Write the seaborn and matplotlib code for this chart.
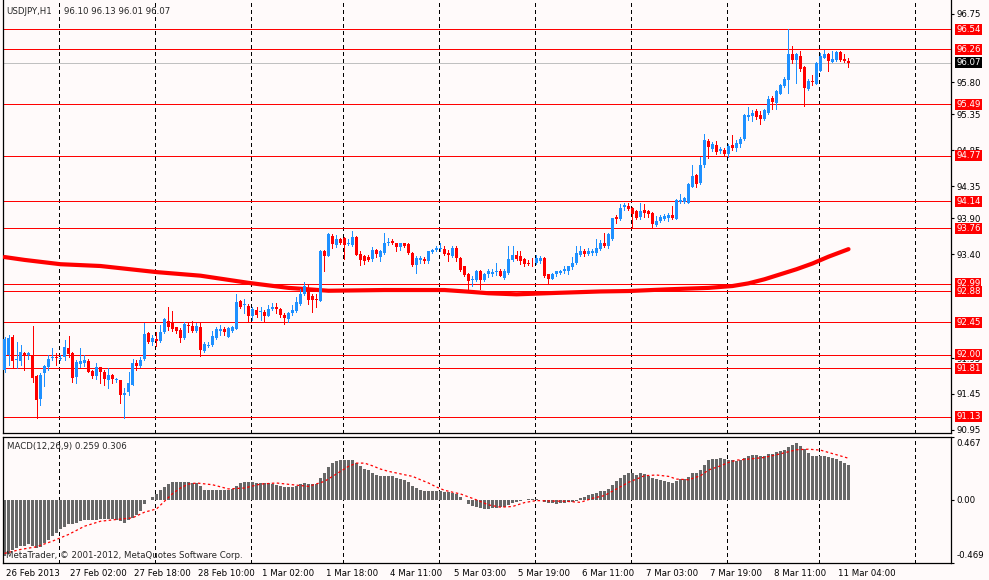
import numpy as np
import pandas as pd
import matplotlib
matplotlib.use("Agg")
import matplotlib.pyplot as plt
import matplotlib.transforms as mtransforms
import seaborn as sns

# ── Data (USDJPY H1) ─────────────────────────────────────
OPEN = [
    91.78, 92.00, 92.25, 91.92, 91.91, 92.02, 91.99, 91.98, 91.70, 91.38,
    91.74, 91.82, 91.95, 91.97, 91.94, 91.96, 92.09, 92.02, 91.69, 91.87,
    91.88, 91.91, 91.77, 91.70, 91.82, 91.76, 91.65, 91.71, 91.64, 91.65,
    91.44, 91.48, 91.58, 91.88, 91.84, 91.94, 92.30, 92.18, 92.21, 92.19,
    92.31, 92.47, 92.44, 92.38, 92.34, 92.23, 92.41, 92.40, 92.33, 92.39,
    92.05, 92.12, 92.13, 92.23, 92.33, 92.36, 92.25, 92.33, 92.36, 92.74,
    92.69, 92.68, 92.54, 92.62, 92.59, 92.60, 92.54, 92.64, 92.67, 92.63,
    92.55, 92.50, 92.58, 92.61, 92.71, 92.85, 92.93, 92.81, 92.77, 92.75,
    93.45, 93.37, 93.66, 93.53, 93.61, 93.63, 93.54, 93.53, 93.64, 93.40,
    93.37, 93.36, 93.33, 93.46, 93.36, 93.41, 93.55, 93.59, 93.55, 93.50,
    93.55, 93.54, 93.41, 93.25, 93.32, 93.33, 93.30, 93.43, 93.46, 93.47,
    93.47, 93.41, 93.37, 93.48, 93.34, 93.23, 93.12, 93.04, 93.04, 93.16,
    93.04, 93.12, 93.13, 93.15, 93.16, 93.07, 93.14, 93.32, 93.39, 93.37,
    93.33, 93.28, 93.28, 93.27, 93.30, 93.34, 93.12, 93.06, 93.12, 93.14,
    93.16, 93.16, 93.22, 93.27, 93.39, 93.44, 93.40, 93.42, 93.42, 93.47,
    93.55, 93.51, 93.61, 93.92, 93.89, 94.06, 94.07, 94.05, 94.00, 93.92,
    94.01, 94.00, 93.97, 93.81, 93.86, 93.89, 93.91, 93.95, 93.89, 94.13,
    94.13, 94.12, 94.34, 94.50, 94.39, 94.64, 94.98, 94.86, 94.92, 94.84,
    94.85, 94.80, 94.92, 94.88, 94.94, 95.00, 95.32, 95.33, 95.39, 95.34,
    95.29, 95.37, 95.58, 95.51, 95.64, 95.74, 95.83, 96.19, 96.11, 96.16,
    96.01, 95.71, 95.81, 95.78, 95.96, 96.14, 96.19, 96.08, 96.11, 96.22,
    96.12, 96.10,
]
HIGH = [
    92.24, 92.27, 92.27, 92.18, 92.13, 92.04, 92.03, 92.40, 91.71, 91.74,
    91.85, 91.99, 92.09, 92.02, 91.99, 92.20, 92.26, 92.04, 91.93, 92.09,
    91.99, 91.94, 91.78, 91.88, 91.83, 91.78, 91.81, 91.73, 91.68, 91.65,
    91.54, 91.75, 91.94, 91.92, 91.96, 92.44, 92.32, 92.27, 92.32, 92.41,
    92.51, 92.66, 92.61, 92.39, 92.37, 92.46, 92.45, 92.47, 92.44, 92.45,
    92.18, 92.18, 92.33, 92.39, 92.41, 92.39, 92.39, 92.40, 92.85, 92.76,
    92.78, 92.71, 92.67, 92.67, 92.66, 92.62, 92.69, 92.72, 92.72, 92.65,
    92.58, 92.60, 92.69, 92.80, 92.92, 93.01, 92.97, 92.85, 92.85, 93.46,
    93.46, 93.69, 93.68, 93.67, 93.62, 93.64, 93.61, 93.72, 93.65, 93.44,
    93.39, 93.39, 93.50, 93.47, 93.46, 93.69, 93.62, 93.61, 93.56, 93.56,
    93.56, 93.55, 93.43, 93.37, 93.37, 93.36, 93.45, 93.47, 93.51, 93.55,
    93.51, 93.46, 93.51, 93.51, 93.36, 93.24, 93.14, 93.10, 93.18, 93.18,
    93.14, 93.19, 93.20, 93.27, 93.20, 93.20, 93.51, 93.51, 93.44, 93.44,
    93.34, 93.32, 93.34, 93.39, 93.37, 93.36, 93.13, 93.14, 93.17, 93.18,
    93.23, 93.24, 93.36, 93.51, 93.51, 93.47, 93.48, 93.47, 93.61, 93.60,
    93.69, 93.69, 93.91, 93.95, 94.10, 94.12, 94.11, 94.06, 94.02, 94.12,
    94.10, 94.02, 93.99, 93.93, 93.95, 93.96, 93.97, 94.07, 94.17, 94.24,
    94.20, 94.39, 94.64, 94.52, 94.76, 95.08, 95.00, 94.96, 94.98, 94.89,
    94.88, 94.94, 95.06, 94.99, 95.04, 95.35, 95.45, 95.41, 95.42, 95.39,
    95.43, 95.60, 95.61, 95.69, 95.78, 95.87, 96.54, 96.30, 96.20, 96.23,
    96.02, 95.84, 95.90, 96.08, 96.20, 96.25, 96.20, 96.23, 96.23, 96.23,
    96.19, 96.13,
]
LOW = [
    91.76, 91.85, 91.83, 91.81, 91.85, 91.79, 91.94, 91.62, 91.11, 91.29,
    91.56, 91.78, 91.93, 91.85, 91.93, 91.93, 91.97, 91.62, 91.61, 91.82,
    91.84, 91.75, 91.67, 91.66, 91.61, 91.58, 91.53, 91.60, 91.62, 91.33,
    91.12, 91.44, 91.58, 91.78, 91.82, 91.92, 92.16, 92.13, 92.12, 92.18,
    92.30, 92.34, 92.33, 92.30, 92.17, 92.21, 92.32, 92.31, 92.31, 91.98,
    92.04, 92.10, 92.12, 92.22, 92.27, 92.27, 92.24, 92.32, 92.35, 92.65,
    92.58, 92.47, 92.48, 92.53, 92.48, 92.45, 92.54, 92.62, 92.58, 92.53,
    92.42, 92.45, 92.55, 92.60, 92.69, 92.83, 92.71, 92.60, 92.67, 92.74,
    93.17, 93.37, 93.48, 93.50, 93.54, 93.33, 93.53, 93.51, 93.39, 93.25,
    93.26, 93.30, 93.31, 93.36, 93.31, 93.40, 93.53, 93.54, 93.44, 93.46,
    93.50, 93.40, 93.24, 93.14, 93.27, 93.27, 93.27, 93.42, 93.44, 93.44,
    93.39, 93.30, 93.36, 93.31, 93.17, 93.09, 92.88, 92.95, 93.02, 92.92,
    93.02, 93.08, 93.10, 93.11, 93.09, 93.05, 93.12, 93.30, 93.32, 93.26,
    93.24, 93.25, 93.24, 93.26, 93.27, 93.08, 92.99, 93.05, 93.10, 93.13,
    93.14, 93.13, 93.20, 93.26, 93.37, 93.37, 93.39, 93.39, 93.39, 93.46,
    93.50, 93.48, 93.60, 93.83, 93.88, 94.01, 94.02, 93.78, 93.89, 93.89,
    93.92, 93.92, 93.77, 93.79, 93.85, 93.88, 93.86, 93.89, 93.89, 94.11,
    94.11, 94.11, 94.33, 94.33, 94.38, 94.62, 94.74, 94.84, 94.80, 94.81,
    94.78, 94.75, 94.85, 94.84, 94.90, 94.99, 95.27, 95.26, 95.28, 95.22,
    95.27, 95.35, 95.42, 95.43, 95.63, 95.73, 95.65, 96.07, 95.79, 95.95,
    95.47, 95.69, 95.76, 95.77, 95.95, 96.13, 95.95, 96.08, 96.10, 96.10,
    96.08, 96.01,
]
CLOSE = [
    92.22, 92.23, 91.91, 91.94, 92.04, 92.00, 92.02, 91.68, 91.37, 91.71,
    91.84, 91.94, 91.97, 91.95, 91.95, 92.10, 92.01, 91.68, 91.90, 91.91,
    91.93, 91.75, 91.70, 91.82, 91.76, 91.66, 91.72, 91.66, 91.66, 91.43,
    91.47, 91.60, 91.88, 91.84, 91.93, 92.29, 92.17, 92.23, 92.19, 92.31,
    92.50, 92.39, 92.35, 92.33, 92.23, 92.43, 92.40, 92.33, 92.40, 92.06,
    92.15, 92.13, 92.26, 92.36, 92.35, 92.31, 92.37, 92.38, 92.73, 92.67,
    92.70, 92.54, 92.64, 92.55, 92.60, 92.54, 92.64, 92.66, 92.63, 92.55,
    92.51, 92.58, 92.62, 92.73, 92.85, 92.95, 92.76, 92.76, 92.76, 93.45,
    93.37, 93.68, 93.54, 93.61, 93.55, 93.53, 93.56, 93.64, 93.39, 93.32,
    93.30, 93.32, 93.46, 93.40, 93.44, 93.55, 93.57, 93.56, 93.50, 93.55,
    93.51, 93.41, 93.25, 93.34, 93.34, 93.31, 93.44, 93.46, 93.48, 93.48,
    93.40, 93.39, 93.48, 93.34, 93.18, 93.11, 93.02, 93.05, 93.16, 93.04,
    93.12, 93.16, 93.15, 93.17, 93.10, 93.17, 93.33, 93.39, 93.33, 93.31,
    93.26, 93.26, 93.27, 93.34, 93.34, 93.09, 93.06, 93.12, 93.16, 93.17,
    93.20, 93.23, 93.28, 93.42, 93.44, 93.40, 93.44, 93.45, 93.48, 93.56,
    93.51, 93.68, 93.90, 93.89, 94.05, 94.09, 94.03, 93.96, 93.90, 94.00,
    93.98, 93.96, 93.82, 93.86, 93.92, 93.93, 93.95, 93.91, 94.16, 94.15,
    94.18, 94.38, 94.49, 94.38, 94.64, 94.99, 94.89, 94.94, 94.83, 94.87,
    94.80, 94.91, 94.88, 94.95, 95.01, 95.34, 95.34, 95.37, 95.31, 95.29,
    95.41, 95.56, 95.52, 95.67, 95.76, 95.85, 96.19, 96.11, 96.19, 95.98,
    95.72, 95.81, 95.80, 96.06, 96.16, 96.19, 96.10, 96.12, 96.22, 96.11,
    96.10, 96.07,
]

# thick red moving average, sampled along the chart
MA_BARS = [0, 5, 14, 24, 38, 49, 61, 71, 81, 95, 110, 116, 121, 128, 138,
           149, 156, 166, 176, 182, 186, 190, 194, 198, 202, 206, 211]
MA_VALS = [93.36, 93.32, 93.26, 93.235, 93.15, 93.10, 93.00, 92.93, 92.89,
           92.90, 92.90, 92.877, 92.855, 92.84, 92.86, 92.88, 92.886, 92.91,
           92.93, 92.956, 92.993, 93.05, 93.12, 93.19, 93.27, 93.365, 93.47]

# horizontal levels
LEVELS = [96.54, 96.26, 95.49, 94.77, 94.14, 93.76,
          92.99, 92.88, 92.45, 92.00, 91.81, 91.13]
LAST_PRICE = 96.07
PRICE_TICKS = [96.75, 95.80, 95.35, 94.85, 94.35, 93.90, 93.40,
               91.95, 91.45, 90.95]

# MACD(12,26,9) histogram, one per bar
MACD_HIST = [
    -0.42, -0.40, -0.37, -0.36, -0.34, -0.34, -0.33, -0.34, -0.36, -0.35,
    -0.32, -0.30, -0.27, -0.25, -0.22, -0.20, -0.18, -0.18, -0.17, -0.16,
    -0.15, -0.15, -0.15, -0.15, -0.14, -0.14, -0.14, -0.14, -0.15, -0.16,
    -0.17, -0.15, -0.135, -0.115, -0.085, -0.036, -0.005, 0.02, 0.044, 0.068,
    0.094, 0.118, 0.128, 0.13, 0.128, 0.13, 0.128, 0.122, 0.122, 0.104,
    0.074, 0.068, 0.074, 0.074, 0.074, 0.074, 0.074, 0.081, 0.104, 0.122,
    0.13, 0.128, 0.128, 0.122, 0.122, 0.122, 0.122, 0.118, 0.111, 0.098,
    0.09, 0.09, 0.094, 0.098, 0.118, 0.122, 0.118, 0.118, 0.118, 0.159,
    0.196, 0.24, 0.27, 0.283, 0.29, 0.294, 0.294, 0.29, 0.27, 0.246,
    0.226, 0.216, 0.196, 0.185, 0.176, 0.176, 0.176, 0.176, 0.159, 0.152,
    0.142, 0.128, 0.098, 0.086, 0.068, 0.067, 0.061, 0.061, 0.067, 0.067,
    0.058, 0.054, 0.047, 0.041, 0.022, -0.003, -0.032, -0.047, -0.051, -0.064,
    -0.067, -0.067, -0.064, -0.064, -0.057, -0.051, -0.04, -0.027, -0.014, -0.007,
    -0.003, 0.003, 0.005, 0.003, -0.003, -0.014, -0.022, -0.027, -0.032, -0.027,
    -0.022, -0.014, -0.014, -0.007, 0.01, 0.022, 0.032, 0.042, 0.049, 0.066,
    0.066, 0.079, 0.11, 0.135, 0.162, 0.184, 0.199, 0.199, 0.182, 0.197,
    0.187, 0.172, 0.16, 0.15, 0.145, 0.138, 0.13, 0.125, 0.14, 0.15,
    0.15, 0.17, 0.194, 0.199, 0.219, 0.256, 0.29, 0.302, 0.302, 0.307,
    0.30, 0.295, 0.295, 0.287, 0.295, 0.31, 0.324, 0.332, 0.332, 0.324,
    0.324, 0.339, 0.339, 0.351, 0.359, 0.364, 0.39, 0.405, 0.42, 0.398,
    0.373, 0.346, 0.324, 0.324, 0.324, 0.324, 0.317, 0.307, 0.30, 0.287,
    0.273, 0.259,
]
SIG_BARS = [0, 4, 8, 12, 16, 20, 24, 28, 32, 35, 38, 40, 42, 44, 46, 48, 52,
            56, 60, 64, 68, 72, 76, 80, 82, 84, 86, 88, 90, 92, 94, 96, 98,
            100, 102, 104, 106, 108, 110, 112, 114, 118, 121, 124, 127, 130,
            133, 136, 140, 144, 147, 150, 153, 156, 158, 160, 163, 166, 168,
            171, 174, 176, 179, 181, 183, 186, 190, 193, 196, 198, 201, 204,
            206, 208, 211]
SIG_VALS = [-0.398, -0.369, -0.349, -0.307, -0.258, -0.197, -0.16, -0.147,
            -0.135, -0.093, -0.069, -0.012, 0.044, 0.086, 0.115, 0.123, 0.11,
            0.079, 0.086, 0.115, 0.123, 0.11, 0.098, 0.135, 0.172, 0.209,
            0.246, 0.27, 0.27, 0.25, 0.226, 0.209, 0.197, 0.184, 0.172, 0.147,
            0.123, 0.093, 0.069, 0.055, 0.042, -0.002, -0.039, -0.056, -0.051,
            -0.022, -0.007, -0.01, -0.012, -0.02, 0.01, 0.03, 0.079, 0.128,
            0.152, 0.177, 0.182, 0.172, 0.152, 0.147, 0.177, 0.219, 0.25,
            0.275, 0.292, 0.30, 0.312, 0.332, 0.354, 0.369, 0.373, 0.366,
            0.349, 0.332, 0.306]

# time axis (one label every 16 bars) and day separators
TIME_BARS = [0, 16, 32, 48, 64, 80, 96, 112, 128, 144, 160, 176, 192, 208]
TIME_LABELS = ["26 Feb 2013", "27 Feb 02:00", "27 Feb 18:00", "28 Feb 10:00",
               "1 Mar 02:00", "1 Mar 18:00", "4 Mar 11:00", "5 Mar 03:00",
               "5 Mar 19:00", "6 Mar 11:00", "7 Mar 03:00", "7 Mar 19:00",
               "8 Mar 11:00", "11 Mar 04:00"]
DAY_BARS = [13.75, 37.75, 61.75, 84.75, 108.75, 132.75, 156.75, 180.75,
            203.75, 227.75]

# ── Style ────────────────────────────────────
sns.set_style("white")
plt.rcParams["font.family"] = ["DejaVu Sans"]

BG = "#FFFAFA"
BLUE = "#1E90FF"
RED = "#FF0000"
FS = 6.2
W, H = 989, 580
PX = 0.72  # one pixel in points

fig = plt.figure(figsize=(W / 100, H / 100), dpi=100, facecolor=BG)


def px_axes(x0, y0, x1, y1):
    return fig.add_axes([x0 / W, 1 - y1 / H, (x1 - x0) / W, (y1 - y0) / H])


# bar i sits on pixel column 4 + 4*i
ax = px_axes(3.0, 0, 951, 433)
ax2 = px_axes(3.0, 436.5, 951, 563)
XLIM = (-0.375, 236.625)

for a in (ax, ax2):
    a.set_facecolor(BG)
    a.set_xlim(*XLIM)
    for sp in a.spines.values():
        sp.set_color("black")
        sp.set_linewidth(0.9)
    for d in DAY_BARS:
        a.axvline(d, color="black", lw=PX, ls=(0, (4, 3)), zorder=1,
                  antialiased=False)
ax.spines["top"].set_visible(False)

# ── Price panel ──────────────────────────────
df = pd.DataFrame({"open": OPEN, "high": HIGH, "low": LOW, "close": CLOSE})
df["bar"] = np.arange(len(df))
up = df["close"] >= df["open"]
cols = np.where(up, BLUE, RED)

for v in LEVELS:
    ax.axhline(v, color=RED, lw=PX, zorder=2, antialiased=False)
ax.axhline(LAST_PRICE, color="#C0C0C0", lw=PX, zorder=2, antialiased=False)

sns.lineplot(x=MA_BARS, y=MA_VALS, ax=ax, color=RED, lw=3.0, sort=False, zorder=3)

ax.vlines(df["bar"], df["low"], df["high"], colors=cols, lw=PX, zorder=4,
          antialiased=False)
body_lo = np.minimum(df["open"], df["close"])
body_h = np.maximum((df["close"] - df["open"]).abs(), 0.012)
ax.bar(df["bar"], body_h, bottom=body_lo, width=0.72, color=cols, lw=0,
       zorder=4, antialiased=False)

ax.set_ylim(96.945 - 433 / 71.7, 96.945)
ax.set_xticks([])
ax.yaxis.tick_right()
ax.set_yticks(PRICE_TICKS)
ax.set_yticklabels([f"{v:.2f}" for v in PRICE_TICKS])
ax.tick_params(axis="y", length=2.2, width=0.8, pad=1.5, labelsize=FS,
               colors="black")
ax.set_xlabel("")
ax.set_ylabel("")

trans = mtransforms.blended_transform_factory(ax.transAxes, ax.transData)
for v in LEVELS:
    ax.text(1.0055, v, f"{v:.2f}", transform=trans, ha="left", va="center",
            color="white", fontsize=FS, clip_on=False, zorder=6,
            bbox=dict(boxstyle="square,pad=0.12", fc=RED, ec="none"))
ax.text(1.0055, LAST_PRICE, f"{LAST_PRICE:.2f}", transform=trans, ha="left",
        va="center", color="white", fontsize=FS, clip_on=False, zorder=6,
        bbox=dict(boxstyle="square,pad=0.12", fc="black", ec="none"))

fig.text(6 / W, 1 - 11.7 / H, "USDJPY,H1", fontsize=FS, va="center")
fig.text(64 / W, 1 - 11.7 / H, "96.10 96.13 96.01 96.07", fontsize=FS,
         va="center")

# ── MACD panel ───────────────────────────────
mdf = pd.DataFrame({"bar": np.arange(len(MACD_HIST)), "macd": MACD_HIST})
sns.barplot(data=mdf, x="bar", y="macd", native_scale=True, color="#676767",
            saturation=1, width=0.72, linewidth=0, errorbar=None, ax=ax2,
            zorder=2, antialiased=False)
sns.lineplot(x=SIG_BARS, y=SIG_VALS, ax=ax2, color=RED, lw=0.9, sort=False,
             linestyle=(0, (2, 2)), zorder=3)

ax2.set_xlim(*XLIM)
ax2.set_ylim(-0.469, 0.467)
ax2.yaxis.tick_right()
ax2.set_yticks([0.467, 0.0, -0.469])
ax2.set_yticklabels(["0.467", "0.00", "-0.469"])
ax2.tick_params(axis="y", length=2.2, width=0.8, pad=1.5, labelsize=FS,
                colors="black")
ylabs = ax2.get_yticklabels()
ylabs[0].set_va("top")
ylabs[0].set_transform(ylabs[0].get_transform()
                       + mtransforms.ScaledTranslation(0, -3 / 100, fig.dpi_scale_trans))
ylabs[2].set_va("bottom")
ylabs[2].set_transform(ylabs[2].get_transform()
                       + mtransforms.ScaledTranslation(0, 3 / 100, fig.dpi_scale_trans))

ax2.set_xticks(TIME_BARS)
ax2.set_xticklabels(TIME_LABELS, ha="left")
ax2.tick_params(axis="x", length=2.5, width=0.8, pad=1.5, labelsize=FS,
                colors="black")
for lab in ax2.get_xticklabels():
    lab.set_transform(lab.get_transform()
                      + mtransforms.ScaledTranslation(2 / 100, 0, fig.dpi_scale_trans))
ax2.set_xlabel("")
ax2.set_ylabel("")

fig.text(7 / W, 1 - 446 / H, "MACD(12,26,9) 0.259 0.306", fontsize=FS,
         va="center")
fig.text(6 / W, 1 - 555.5 / H,
         "MetaTrader, © 2001-2012, MetaQuotes Software Corp.", fontsize=FS,
         va="center", zorder=5)

fig.savefig("out.png", dpi=100, facecolor=BG)
